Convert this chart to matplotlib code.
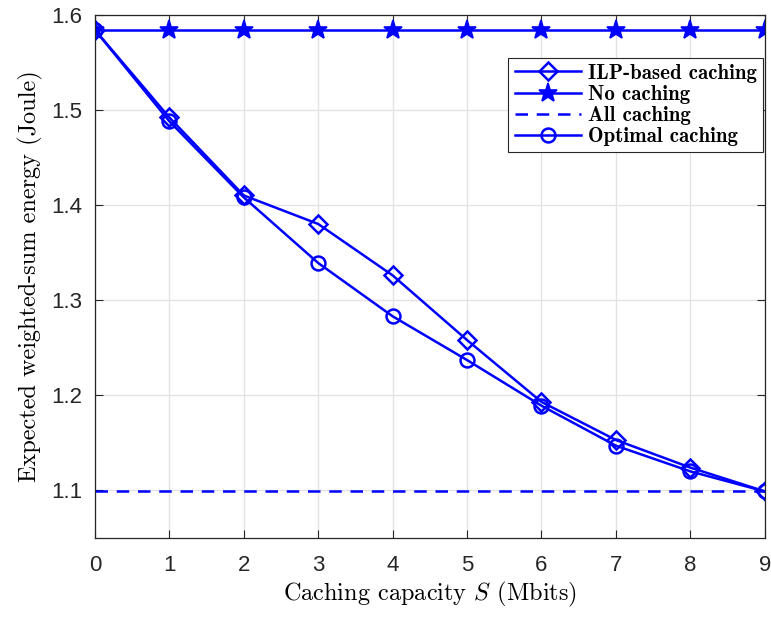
import matplotlib.pyplot as plt

plt.rcParams['mathtext.fontset'] = 'cm'

# Datos
capacidad = [0, 1, 2, 3, 4, 5, 6, 7, 8, 9]
ilp = [1.584, 1.492, 1.410, 1.380, 1.326, 1.258, 1.193, 1.153, 1.124, 1.099]
sin_cache = [1.584] * 10
todo_cache = [1.099] * 10
optimo = [1.584, 1.488, 1.408, 1.339, 1.283, 1.237, 1.189, 1.147, 1.120, 1.099]

azul = (0, 0, 1)

fig = plt.figure(figsize=(7.71, 6.18), dpi=100)
ax = fig.add_axes([0.123, 0.1294, 0.869, 0.847])

ax.plot(capacidad, ilp, '-', marker='D', markersize=9, markerfacecolor='none',
        markeredgewidth=1.8, linewidth=1.8, color=azul, label='ILP-based caching')
ax.plot(capacidad, sin_cache, '-', marker='*', markersize=14, markerfacecolor=azul,
        markeredgewidth=1.2, linewidth=1.8, color=azul, label='No caching')
ax.plot(capacidad, todo_cache, '--', dashes=(5, 3.5), linewidth=1.8, color=azul,
        label='All caching')
ax.plot(capacidad, optimo, '-', marker='o', markersize=10, markerfacecolor='none',
        markeredgewidth=1.8, linewidth=1.8, color=azul, label='Optimal caching')

ax.set_xlim(0, 9)
ax.set_ylim(1.05, 1.6)
ax.set_xticks(range(0, 10))
ax.set_yticks([1.1, 1.2, 1.3, 1.4, 1.5, 1.6])
ax.set_yticklabels(['1.1', '1.2', '1.3', '1.4', '1.5', '1.6'])

for lab in ax.get_xticklabels() + ax.get_yticklabels():
    lab.set_fontfamily('Liberation Sans')
    lab.set_fontsize(16)
    lab.set_color('#262626')

ax.tick_params(direction='in', length=6, width=0.8, top=True, right=True,
               colors='#262626', pad=9)
ax.tick_params(axis='x', pad=12)
ax.grid(True, color='#e3e3e3', linewidth=1)
ax.set_axisbelow(True)
for s in ax.spines.values():
    s.set_color('#262626')
    s.set_linewidth(0.9)

ax.set_xlabel('Caching capacity $S$ (Mbits)', fontfamily='cmr10', fontsize=17.5,
              labelpad=3)
ax.set_ylabel('Expected weighted-sum energy (Joule)', fontfamily='cmr10', fontsize=17.5,
              labelpad=6)

leg = ax.legend(loc='upper right', bbox_to_anchor=(0.997, 0.918),
                prop={'family': 'cmb10', 'size': 15}, fancybox=False,
                edgecolor='#262626', framealpha=1, borderpad=0.3,
                labelspacing=0.1, handlelength=3.2, handletextpad=0.3,
                borderaxespad=0)
leg.get_frame().set_linewidth(0.8)

fig.savefig('out.png', dpi=100)
